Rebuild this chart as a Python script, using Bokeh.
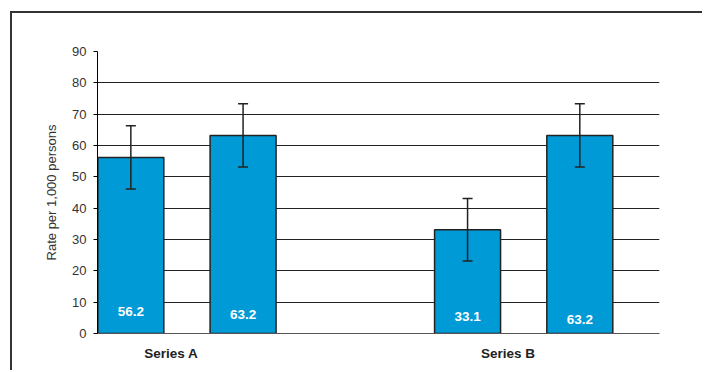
from bokeh.plotting import figure
from bokeh.models import (ColumnDataSource, Whisker, TeeHead, FixedTicker, Range1d)
from bokeh.core.properties import value
from bokeh.embed import file_html
from bokeh.resources import INLINE

# ---- data ----
groups = ["Series A", "Series B"]
bar_group = [0, 0, 1, 1]
bar_slot = [0, 1, 0, 1]
rates = [56.2, 63.2, 33.1, 63.2]
errors = [10.1, 10.1, 10.0, 10.1]
rate_labels = ["56.2", "63.2", "33.1", "63.2"]
label_y = [7.0, 6.2, 5.3, 4.4]
y_ticks = [0, 10, 20, 30, 40, 50, 60, 70, 80, 90]

# ---- layout helpers ----
GROUP_STEP = 3
xs = [g * GROUP_STEP + s for g, s in zip(bar_group, bar_slot)]
src = ColumnDataSource(dict(
    x=xs, top=rates,
    upper=[v + e for v, e in zip(rates, errors)],
    lower=[v - e for v, e in zip(rates, errors)],
    lab=rate_labels, ly=label_y,
))

FONT = "Liberation Sans"
p = figure(width=692, height=359, output_backend="svg", toolbar_location=None,
           x_range=Range1d(-0.297, 4.71), y_range=Range1d(0, 90),
           min_border_left=85, min_border_right=45, min_border_top=38,
           min_border_bottom=39)
p.styles = {"border-top": "2px solid #333333", "border-left": "2px solid #333333",
            "margin-top": "11px", "margin-left": "10px"}
p.outline_line_color = None
p.xgrid.grid_line_color = None
p.ygrid.grid_line_color = "#222222"
p.ygrid.grid_line_width = 1
p.ygrid.ticker = FixedTicker(ticks=y_ticks)

p.vbar(x="x", top="top", bottom=0, width=0.588, source=src,
       fill_color="#009AD6", line_color="#222222", line_width=1.5)

p.add_layout(Whisker(base="x", upper="upper", lower="lower", source=src,
                     level="overlay",
                     line_color="#222222", line_width=1.5,
                     upper_head=TeeHead(size=10, line_color="#222222", line_width=1.5),
                     lower_head=TeeHead(size=10, line_color="#222222", line_width=1.5)))

p.text(x="x", y="ly", text="lab", source=src, text_color="white",
       text_font=value(FONT), text_font_style="bold", text_font_size="13.5px",
       text_align="center", text_baseline="middle")

# y axis
p.yaxis.ticker = FixedTicker(ticks=y_ticks)
p.yaxis.minor_tick_line_color = None
p.yaxis.major_tick_in = 0
p.yaxis.major_tick_out = 4
p.yaxis.axis_line_color = "black"
p.yaxis.major_tick_line_color = "black"
p.yaxis.major_label_text_font = FONT
p.yaxis.major_label_text_font_size = "13px"
p.yaxis.major_label_text_color = "#333333"
p.yaxis.major_label_standoff = 7
p.yaxis.axis_label = "Rate per 1,000 persons"
p.yaxis.axis_label_text_font = FONT
p.yaxis.axis_label_text_font_size = "13px"
p.yaxis.axis_label_text_font_style = "normal"
p.yaxis.axis_label_text_color = "#333333"
p.yaxis.axis_label_standoff = 10

# x axis
label_ticks = [g * GROUP_STEP + 0.36 for g in range(len(groups))]
p.xaxis.ticker = FixedTicker(ticks=label_ticks)
p.xaxis.major_label_overrides = {t: g for t, g in zip(label_ticks, groups)}
p.xaxis.major_tick_line_color = None
p.xaxis.minor_tick_line_color = None
p.xaxis.axis_line_color = "#555555"
p.xaxis.major_label_text_font = FONT
p.xaxis.major_label_text_font_size = "13.5px"
p.xaxis.major_label_text_font_style = "bold"
p.xaxis.major_label_text_color = "#222222"
p.xaxis.major_label_standoff = 6

open("out.html", "w").write(file_html(p, INLINE))
